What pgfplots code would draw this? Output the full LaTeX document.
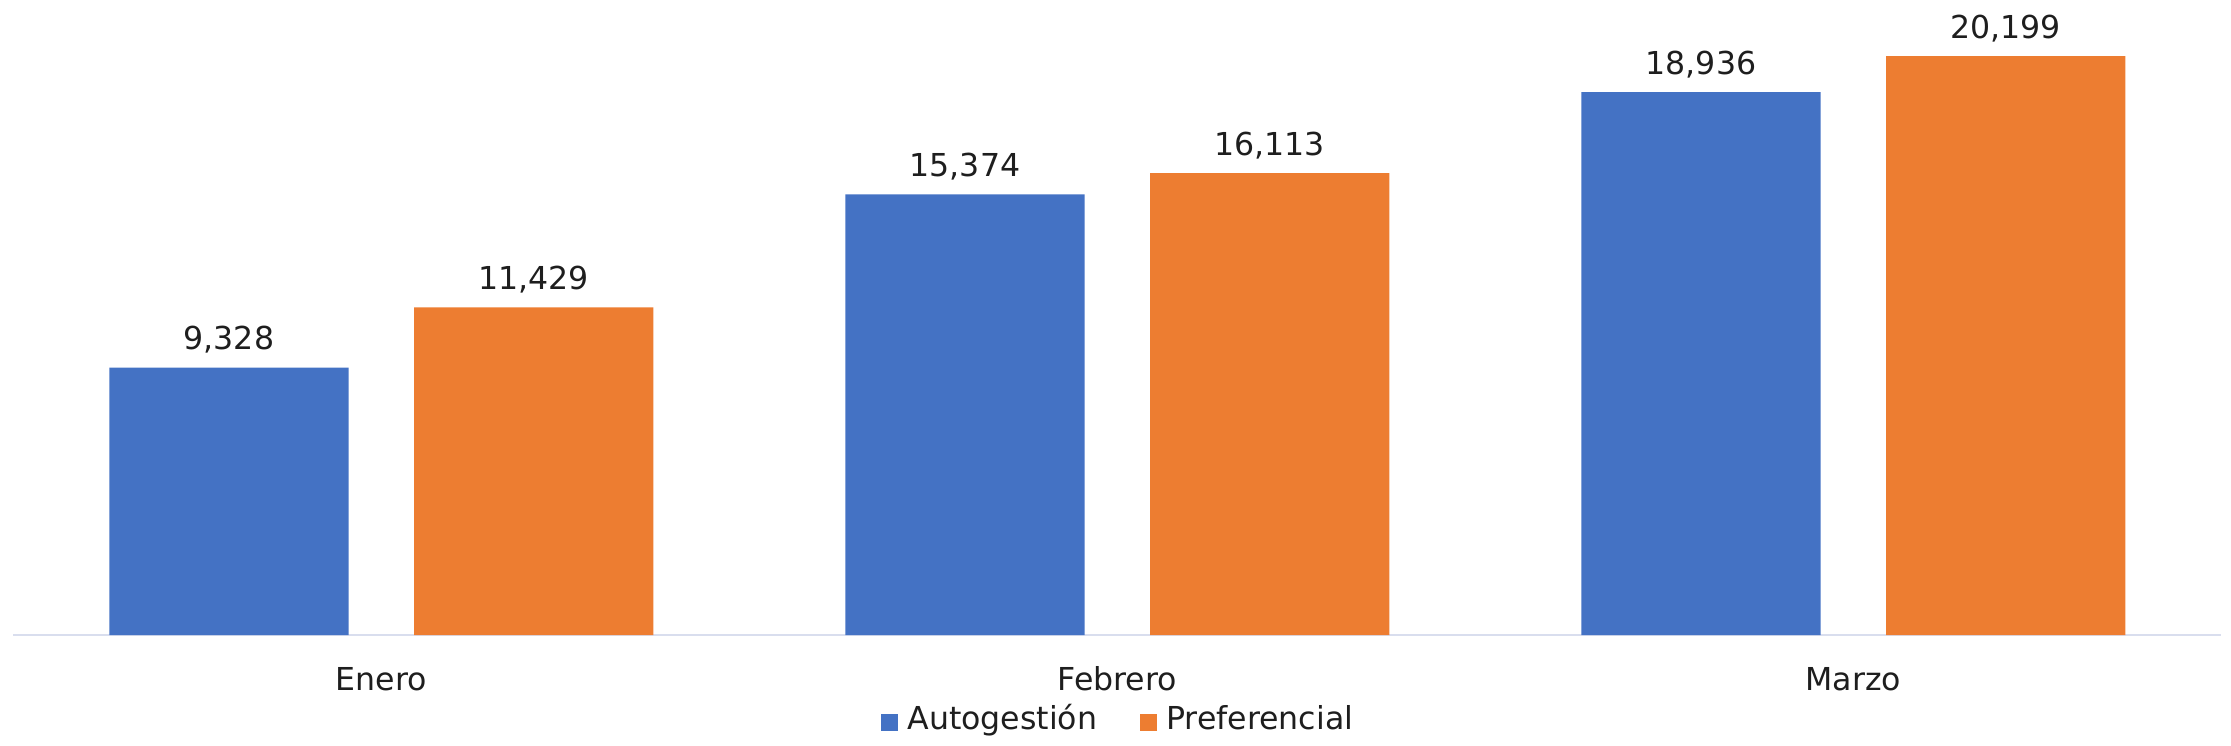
\documentclass[border=0pt]{standalone}
\usepackage{fontspec}
\setmainfont{DejaVu Sans}
\usepackage{pgfplots}
\pgfplotsset{compat=1.18}
\definecolor{cblue}{RGB}{68,114,196}
\definecolor{corange}{RGB}{237,125,49}
\definecolor{axcol}{RGB}{217,222,238}
\definecolor{txt}{RGB}{30,30,30}
\newcommand\ff{\fontsize{15.8pt}{19pt}\selectfont}
\begin{document}
\begin{tikzpicture}
\path[use as bounding box] (-6.65pt,-55pt) rectangle (1108.85pt,317.5pt);
\begin{axis}[
  at={(0pt,0pt)}, anchor=south west,
  scale only axis, width=1104pt, height=315.3pt,
  xmin=-0.5, xmax=2.5, ymin=0, ymax=22000,
  axis x line=bottom, axis y line=none,
  x axis line style={draw=axcol, line width=1pt, -},
  xtick={0,1,2}, xticklabels={Enero,Febrero,Marzo},
  major tick length=0pt,
  xtick style={draw=none},
  xticklabel style={font=\ff, text=txt, anchor=base, yshift=-27.7pt, inner sep=0pt},
  ytick=\empty,
  ybar,
  bar width=0.325,
  /pgf/number format/1000 sep={,},
  /pgf/number format/assume math mode=true,
  nodes near coords,
  nodes near coords style={font=\ff, text=txt, anchor=base, yshift=9pt, inner sep=0pt},
  legend columns=2,
  legend style={at={(0.5,0)}, anchor=north, yshift=-39.35pt, draw=none, fill=none,
    inner sep=0pt, outer sep=0pt, font=\ff, text=txt,
    nodes={inner sep=0pt, text height=0.75em, text depth=0.25em},
    /tikz/every odd column/.append style={column sep=4.5pt},
    /tikz/every even column/.append style={column sep=21.5pt}},
]
\addplot[fill=cblue, draw=none, bar shift=-0.207,
  legend image code/.code={\fill[cblue] (0pt,-3.45pt) rectangle (8.5pt,5.25pt);}]
  coordinates {(0,9328) (1,15374) (2,18936)};
\addlegendentry{Autogestión}
\addplot[fill=corange, draw=none, bar shift=0.207,
  legend image code/.code={\fill[corange] (0pt,-3.45pt) rectangle (8.5pt,5.25pt);}]
  coordinates {(0,11429) (1,16113) (2,20199)};
\addlegendentry{Preferencial}
\end{axis}
\end{tikzpicture}
\end{document}
